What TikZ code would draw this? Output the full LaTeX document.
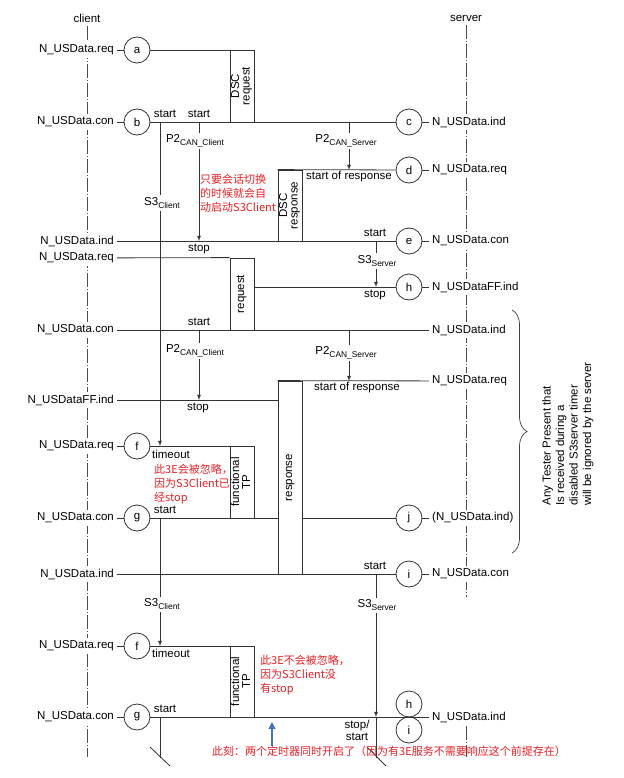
\documentclass[tikz,border=0pt]{standalone}
\usepackage{fontspec}
\setmainfont{Liberation Sans}
\newfontfamily\cjk{Noto Sans CJK SC}
\usetikzlibrary{calc}
\usetikzlibrary{arrows.meta,decorations.pathreplacing}

\definecolor{notered}{RGB}{235,30,35}
\definecolor{nowblue}{RGB}{68,114,196}
\newcommand{\vtext}[1]{\rotatebox{90}{\renewcommand{\arraystretch}{0.78}\begin{tabular}{@{}c@{}}#1\end{tabular}}}
\newcommand{\tsub}[1]{\raisebox{-3.5pt}{\fontsize{8.4}{9}\selectfont #1}}

\tikzset{
  lane/.style={draw=black!70, line width=0.7pt, dash pattern=on 14pt off 2pt on 1pt off 2pt},
  msg/.style={draw=black!80, line width=0.8pt},
  ev/.style={circle, draw=black!80, line width=0.8pt, fill=white, minimum size=26pt, inner sep=0pt},
  txt/.style={inner sep=1pt},
  lname/.style={anchor=east, fill=white, inner sep=3pt},
  rname/.style={anchor=west, fill=white, inner sep=3pt},
  tmr/.style={inner sep=1.5pt},
  pdu/.style={draw=black!80, line width=0.8pt, fill=white, minimum width=24pt, inner sep=0pt},
  note/.style={text=notered, font=\cjk\fontsize{11}{14}\selectfont, align=left, anchor=north west, inner sep=0pt},
  nowarrow/.style={draw=nowblue, line width=1.2pt, -{Triangle[length=7pt,width=7pt]}},
}

\begin{document}
\begin{tikzpicture}[x=1pt, y=-1pt, >=latex, font=\fontsize{11.5}{13.5}\selectfont]
\useasboundingbox (0,0) rectangle (623,778);

% lifelines
\node (client) at (87,18) {client};
\node (server) at (466,18) {server};
\coordinate (clientEnd) at (87,757);
\coordinate (serverEnd) at (466,597);
\coordinate (serverTop2) at (466,726);
\coordinate (serverEnd2) at (466,757);
\draw[lane] (client) -- (clientEnd);
\draw[lane] (server) -- (serverEnd);
\draw[lane] (serverTop2) -- (serverEnd2);

% events
\node[ev] (a) at (137,50) {a};
\node[ev] (b) at (137,122) {b};
\node[ev] (c) at (409,122) {c};
\node[ev] (d) at (409,170) {d};
\node[ev] (e) at (409,241) {e};
\node[ev] (h) at (409,287) {h};
\node[ev] (f) at (137,446) {f};
\node[ev] (g) at (137,518) {g};
\node[ev] (j) at (409,518) {j};
\node[ev] (i) at (409,574) {i};
\node[ev] (f2) at (137,646) {f};
\node[ev] (g2) at (137,717) {g};
\node[ev] (h2) at (409,704) {h};
\node[ev] (i2) at (409,730) {i};

% client primitives
\node[lname] (reqA) at (117,50) {N\_USData.req};
\node[lname] (conA) at (117,122) {N\_USData.con};
\node[lname] (indA) at (117,241) {N\_USData.ind};
\node[lname] (reqB) at (117,258) {N\_USData.req};
\node[lname] (conB) at (117,330) {N\_USData.con};
\node[lname] (ffindA) at (117,400) {N\_USDataFF.ind};
\node[lname] (reqC) at (117,446) {N\_USData.req};
\node[lname] (conC) at (117,518) {N\_USData.con};
\node[lname] (indB) at (117,574) {N\_USData.ind};
\node[lname] (reqD) at (117,646) {N\_USData.req};
\node[lname] (conD) at (117,717) {N\_USData.con};

% server primitives
\node[rname] (indR1) at (429,122) {N\_USData.ind};
\node[rname] (reqR1) at (429,170) {N\_USData.req};
\node[rname] (conR1) at (429,241) {N\_USData.con};
\node[rname] (ffindR) at (429,287) {N\_USDataFF.ind};
\node[rname] (indR2) at (429,330) {N\_USData.ind};
\node[rname] (reqR2) at (429,381) {N\_USData.req};
\node[rname] (indR3) at (429,518) {(N\_USData.ind)};
\node[rname] (conR2) at (429,574) {N\_USData.con};
\node[rname] (indR4) at (429,717) {N\_USData.ind};

% PDUs
\node[pdu, minimum height=72pt] (dscreq) at (242,86) {\vtext{DSC\\request}};
\node[pdu, minimum height=71pt] (dscresp) at (290,205.5) {\vtext{DSC\\response}};
\node[pdu, minimum height=72pt] (request) at (242,294) {\vtext{request}};
\node[pdu, minimum height=193pt] (response) at (290,477.5) {\vtext{response}};
\node[pdu, minimum height=72pt] (ftpA) at (242,482) {\vtext{functional\\TP}};
\node[pdu, minimum height=71pt] (ftpB) at (242,681.5) {\vtext{functional\\TP}};

% messages
\draw[msg] (reqA) -- (a);
\draw[msg] (a) -- (a -| dscreq.west);
\draw[msg] (conA) -- (b);
\draw[msg] (b) -- (c);
\draw[msg] (c) -- (indR1);
\draw[msg] (dscresp.north west) -- (d);
\draw[msg] (d) -- (reqR1);
\draw[msg] (indA) -- (e);
\draw[msg] (e) -- (conR1);
\draw[msg] (reqB) -- (request.north west);
\draw[msg] (h -| request.east) -- (h);
\draw[msg] (h) -- (ffindR);
\draw[msg] (conB) -- (indR2);
\draw[msg] (response.north west) -- (reqR2);
\draw[msg] (ffindA) -- (ffindA -| response.west);
\draw[msg] (reqC) -- (f);
\draw[msg] (f) -- (f -| ftpA.west);
\draw[msg] (conC) -- (g);
\draw[msg] (g) -- (g -| response.west);
\draw[msg] (g -| response.east) -- (j);
\draw[msg] (j) -- (indR3);
\draw[msg] (indB) -- (i);
\draw[msg] (i) -- (conR2);
\draw[msg] (reqD) -- (f2);
\draw[msg] (f2) -- (f2 -| ftpB.west);
\draw[msg] (conD) -- (g2);
\draw[msg] (g2) -- (indR4);

% timers
\coordinate (s3cA) at (160,122);
\coordinate (p2cA) at (199,122);
\coordinate (p2sA) at (349,122);
\coordinate (s3sA) at (376,241);
\coordinate (p2cB) at (199,330);
\coordinate (p2sB) at (349,330);
\coordinate (s3cB) at (160,518);
\coordinate (s3sB) at (376,574);
\coordinate (s3cEnd) at (160,758);
\coordinate (s3sEnd) at (376,758);

\node[tmr] (s3cAT) at (162,203) {S3\tsub{Client}};
\draw[msg] (s3cA) -- (s3cA |- s3cAT.north);
\draw[msg,->] (s3cA |- s3cAT.south) -- (s3cA |- f);
\node[tmr] (p2cAT) at (195,141) {P2\tsub{CAN\_Client}};
\draw[msg] (p2cA) -- (p2cA |- p2cAT.north);
\draw[msg,->] (p2cA |- p2cAT.south) -- (p2cA |- e);
\node[tmr] (p2sAT) at (346,141) {P2\tsub{CAN\_Server}};
\draw[msg] (p2sA) -- (p2sA |- p2sAT.north);
\draw[msg,->] (p2sA |- p2sAT.south) -- (p2sA |- d);
\node[tmr] (s3sAT) at (377,261) {S3\tsub{Server}};
\draw[msg] (s3sA) -- (s3sA |- s3sAT.north);
\draw[msg,->] (s3sA |- s3sAT.south) -- (s3sA |- h);
\node[tmr] (p2cBT) at (195,351) {P2\tsub{CAN\_Client}};
\draw[msg] (p2cB) -- (p2cB |- p2cBT.north);
\draw[msg,->] (p2cB |- p2cBT.south) -- (p2cB |- ffindA);
\node[tmr] (p2sBT) at (346,353) {P2\tsub{CAN\_Server}};
\draw[msg] (p2sB) -- (p2sB |- p2sBT.north);
\draw[msg,->] (p2sB |- p2sBT.south) -- (p2sB |- reqR2);
\node[tmr] (s3cBT) at (162,604) {S3\tsub{Client}};
\draw[msg] (s3cB) -- (s3cB |- s3cBT.north);
\draw[msg,->] (s3cB |- s3cBT.south) -- (s3cB |- f2);
\node[tmr] (s3sBT) at (377,605) {S3\tsub{Server}};
\draw[msg] (s3sB) -- (s3sB |- s3sBT.north);
\draw[msg,->] (s3sB |- s3sBT.south) -- (s3sB |- g2);
\draw[msg] (s3sB |- g2) -- (s3sEnd);
\draw[msg] (s3cB |- g2) -- (s3cEnd);
\draw[msg] ($(s3cEnd)+(-10,-11)$) -- ($(s3cEnd)+(10,8)$);
\draw[msg] ($(s3sEnd)+(-9,-11)$) -- ($(s3sEnd)+(10,8)$);

% timer events
\node[txt] (startA) at (165,114) {start};
\node[txt] (startB) at (199,114) {start};
\node[txt] (sorA) at (349,177) {start of response};
\node[txt] (stopA) at (199,249) {stop};
\node[txt] (startC) at (375,233) {start};
\node[txt] (stopB) at (375,295) {stop};
\node[txt] (startD) at (199,322) {start};
\node[txt] (sorB) at (357,388) {start of response};
\node[txt] (stopC) at (198,408) {stop};
\node[txt] (toA) at (171,454) {timeout};
\node[txt] (startE) at (165,510) {start};
\node[txt] (startF) at (375,566) {start};
\node[txt] (toB) at (171,653) {timeout};
\node[txt] (startG) at (165,709) {start};
\node[txt, align=center, font=\fontsize{11.5}{12}\selectfont] (stopstart) at (357,730) {stop/\\start};

% S3server note
\draw[line width=0.7pt, black!75, decorate, decoration={brace, amplitude=15pt}] (512,310) -- (512,553);
\node[rotate=90, align=left] (ignoreNote) at (568,434) {Any Tester Present that\\Is received during a\\disabled S3server timer\\will be ignored by the server};

% remarks
\node[note] (remarkA) at (200,174.5) {只要会话切换\\的时候就会自\\动启动S3Client};
\node[note] (remarkB) at (154,464) {此3E会被忽略，\\因为S3Client已\\经stop};
\node[note] (remarkC) at (260,655) {此3E不会被忽略，\\因为S3Client没\\有stop};
\node[note, anchor=west] (nowtxt) at (212,751) {此刻：两个定时器同时开启了（因为有3E服务不需要响应这个前提存在）};
\coordinate (nowTip) at (272,722);
\draw[nowarrow] (nowTip |- nowtxt.north) -- (nowTip);
\end{tikzpicture}
\end{document}
